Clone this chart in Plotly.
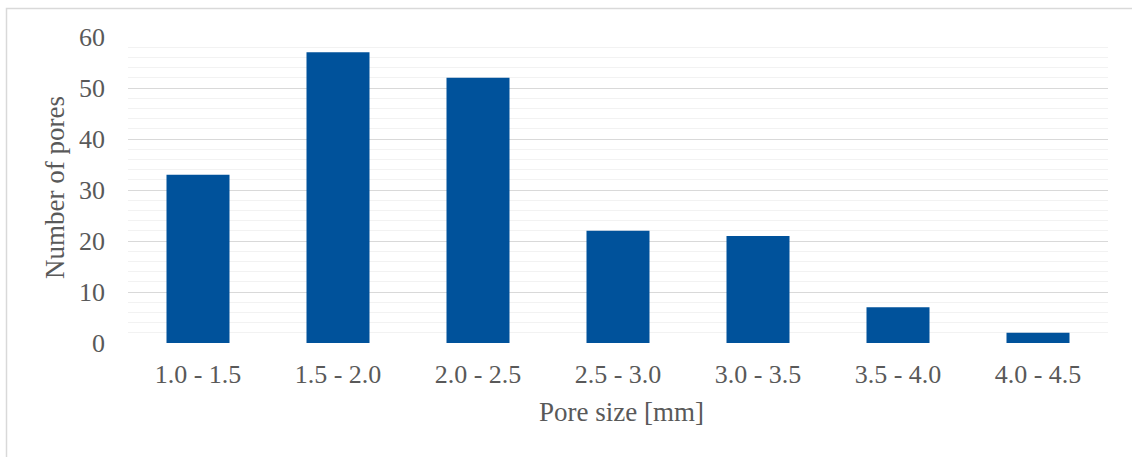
import plotly.graph_objects as go

# Pore size distribution
size_bins = ["1.0 - 1.5", "1.5 - 2.0", "2.0 - 2.5", "2.5 - 3.0",
             "3.0 - 3.5", "3.5 - 4.0", "4.0 - 4.5"]
pore_counts = [33, 57, 52, 22, 21, 7, 2]
y_ticks = [0, 10, 20, 30, 40, 50, 60]

FONT = "Liberation Serif, Times New Roman, serif"
TEXT = "#595959"
TICK_SIZE = 26
TITLE_SIZE = 27

W, H = 1132, 457
ML, MR, MT, MB = 128, 24, 37, 114
PW, PH = W - ML - MR, H - MT - MB

fig = go.Figure(go.Bar(
    x=size_bins,
    y=pore_counts,
    marker=dict(color="#00529B", line=dict(width=0)),
))

fig.update_layout(
    width=W, height=H,
    margin=dict(l=ML, r=MR, t=MT, b=MB, pad=0),
    paper_bgcolor="white",
    plot_bgcolor="white",
    bargap=0.55,
    showlegend=False,
    font=dict(family=FONT, color=TEXT, size=TICK_SIZE),
)

fig.update_xaxes(
    showgrid=False,
    showline=False,
    ticks="",
    tickfont=dict(family=FONT, color=TEXT, size=TICK_SIZE),
    ticklabelstandoff=13,
    automargin=False,
)

fig.update_yaxes(
    range=[0, 60],
    tickvals=y_ticks,
    showgrid=True,
    gridcolor="#D9D9D9",
    gridwidth=1,
    zeroline=False,
    showline=False,
    ticks="",
    tickfont=dict(family=FONT, color=TEXT, size=TICK_SIZE),
    ticklabelstandoff=22,
    minor=dict(dtick=2, showgrid=True, gridcolor="#F2F2F2", gridwidth=1),
    automargin=False,
)

# Axis titles
fig.add_annotation(
    text="Number of pores", textangle=-90,
    xref="paper", yref="paper",
    x=(55 - ML) / PW, y=(H - MB - 188) / PH,
    showarrow=False, xanchor="center", yanchor="middle",
    font=dict(family=FONT, color=TEXT, size=TITLE_SIZE),
)
fig.add_annotation(
    text="Pore size [mm]",
    xref="paper", yref="paper",
    x=(621 - ML) / PW, y=-(412 - (H - MB)) / PH,
    showarrow=False, xanchor="center", yanchor="middle",
    font=dict(family=FONT, color=TEXT, size=TITLE_SIZE),
)

# Chart frame
fig.add_shape(
    type="rect", xref="paper", yref="paper",
    x0=(6.5 - ML) / PW, x1=1.2,
    y0=-0.6, y1=1 + (MT - 8.5) / PH,
    line=dict(color="#D9D9D9", width=1.5),
    fillcolor="rgba(0,0,0,0)",
    layer="below",
)

fig.write_html("out.html")
